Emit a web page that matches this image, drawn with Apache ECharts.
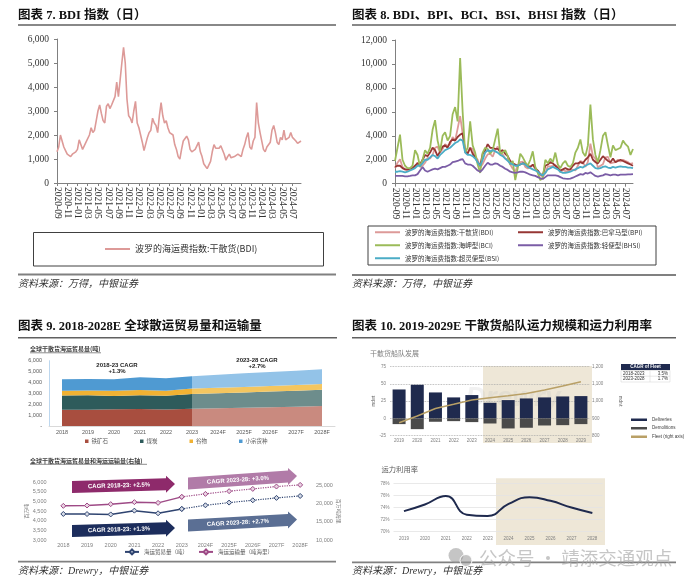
<!DOCTYPE html>
<html><head><meta charset="utf-8">
<script src="https://cdn.jsdelivr.net/npm/echarts@6.0.0/dist/echarts.min.js"></script>
<style>html,body{margin:0;padding:0;background:#fff}#c{width:700px;height:588px}</style>
</head><body><div id="c"></div>
<script>
// ---------------- DATA ----------------
const tickLabels78 = ['2020-09','2020-11','2021-01','2021-03','2021-05','2021-07','2021-09','2021-11','2022-01','2022-03','2022-05','2022-07','2022-09','2022-11','2023-01','2023-03','2023-05','2023-07','2023-09','2023-11','2024-01','2024-03','2024-05','2024-07'];
const daysChart7 = ['01','11','21'];
const daysChart8 = ['01','16'];

const bdiDaily = [1300,1500,2000,2050,1500,1350,1200,1150,1100,1200,
1150,1300,1400,1800,1750,1400,1350,1700,1750,2000,
2300,2100,2200,2600,3000,3250,2900,2600,2500,3200,
3300,3100,3250,3300,3600,4200,3600,4300,5000,5650,
5000,3500,2800,2700,2500,3000,3400,2500,2300,2300,
1700,1350,1400,1900,2100,2200,2700,2500,2400,2100,
2800,3350,2800,2500,2600,2300,2100,2100,2000,1600,
1400,1100,1000,1400,1750,1800,1950,1800,1400,1300,
1250,1400,1400,1700,1300,1100,800,700,600,550,
900,1300,1600,1450,1500,1450,1550,1550,1200,950,
1100,1200,1050,1000,1100,1150,1200,1150,1100,1400,
1600,1900,2100,1500,1400,1750,1900,3350,2500,2100,
2100,1400,1300,1500,1550,1700,2200,2400,2100,1700,
1600,1900,1800,2200,1800,1850,1900,2100,1900,1850,
1750,1650,1700,1750];

const bdi8 = [1300,1750,2050,1400,1200,1120,1200,1250,1400,1780,
1400,1500,1750,2150,2100,2400,3000,3100,2600,2900,
3300,3150,3300,3900,3600,4600,5650,4200,2800,2600,
3000,2900,2300,2000,1350,1650,2100,2450,2500,2250,
2800,3100,2500,2450,2100,2050,1600,1250,1000,1550,
1800,1850,1400,1280,1400,1550,1300,950,700,580,
900,1450,1450,1480,1550,1400,950,1150,1050,1050,
1150,1180,1100,1500,1900,1800,1400,1820,3350,2300,
2100,1350,1500,1620,2200,2250,1700,1750,1800,2000,
1850,2000,1900,1800,1650,1720];
const bpi8 = [1400,1500,1500,1300,1200,1200,1250,1300,1500,1700,
1600,2000,2400,2300,2600,3000,2800,2300,2700,3100,
3200,3000,3500,3700,3600,3900,4100,4200,2700,2500,
3000,2500,2200,1800,1500,2500,2800,3300,3000,3000,
2900,2900,2700,2800,2500,2300,1900,1700,1600,1500,
1600,1700,1700,1500,1400,1600,1300,1100,800,700,
1500,1600,1800,1700,1500,1300,1100,1200,1300,1200,
1200,1500,1700,1700,1800,1700,2000,2200,2500,2000,
1800,1700,2000,2300,2100,1900,1800,2100,1800,1900,
2000,1900,1800,1700,1600,1500];
const bci8 = [1900,3000,4100,2000,1500,1300,1300,1500,2800,2400,
1400,2000,2800,2500,3000,4500,5300,3600,2700,4000,
4300,3600,4000,5800,6400,5200,10500,6000,2600,3000,
5200,3200,2600,1600,900,2600,3000,2900,2500,2800,
3700,4600,2500,2600,2800,2300,1600,1900,300,1300,
2500,2200,1800,1500,2000,2700,1400,900,300,500,
2000,1700,2100,1800,2600,1600,1300,1700,1900,1500,
1400,1700,2600,3000,3700,2600,2300,3200,6600,3700,
2400,1800,2800,4000,4300,3200,2200,3200,2800,2900,
3000,3600,3300,3100,2400,2900];
const bhsi8 = [650,650,650,650,620,620,650,700,700,800,
1100,1400,1100,1000,1100,1200,1250,1200,1300,1400,
1400,1500,1600,1800,1850,1900,2000,2050,1700,1600,
1600,1500,1300,1100,1000,1200,1500,1750,1600,1600,
1700,1650,1500,1400,1250,1150,1000,950,900,950,
1000,1000,950,850,750,700,650,550,450,400,
550,700,700,700,700,650,550,450,420,400,
420,500,600,700,800,750,900,850,950,800,
650,600,650,700,800,750,700,750,750,700,
750,750,750,780,780,800];
const bsi8 = [1000,1000,1050,1000,950,1000,1100,1200,1300,1500,
1500,1700,2000,2000,2200,2400,2300,2100,2400,2600,
2800,2900,3000,3200,3400,3500,3700,3600,2600,2400,
2400,2300,2100,1800,1500,2000,2600,2800,2700,2800,
2700,2600,2400,2300,2100,1900,1700,1600,1500,1500,
1600,1700,1600,1400,1300,1200,1100,1000,800,700,
900,1200,1300,1400,1300,1200,1000,900,900,950,
1000,1100,1200,1300,1400,1350,1500,1600,1700,1500,
1300,1250,1300,1400,1450,1350,1300,1400,1350,1400,
1450,1400,1400,1350,1350,1300];

const years9 = ['2018','2019','2020','2021','2022','2023','2024F','2025F','2026F','2027F','2028F'];
const ironOre   = [1490,1500,1540,1560,1520,1580,1640,1680,1730,1780,1830];
const coal      = [1320,1330,1220,1260,1250,1370,1380,1400,1430,1460,1490];
const grain     = [420,430,470,480,470,490,500,510,520,530,540];
const minorBulk = [1070,1070,1070,1180,1140,1140,1200,1260,1280,1310,1360];
const seaTrade  = [4354,4350,4330,4526,4390,4615,4805,4945,5065,5190,5290];
const tonMiles  = [19475,19570,19945,20500,20300,21960,22790,23540,24170,24830,25280];

const years10 = ['2019','2020','2021','2022','2023','2024','2025','2026','2027','2028','2029'];
const deliveries  = [42,48.8,37.7,30.5,33.9,22.7,26.6,29,30.5,31.9,32.4];
const demolitions = [-8.2,-15.5,-4.8,-3.9,-5.3,-7.3,-14.5,-13.5,-10.2,-9.7,-8.2];
const fleet       = [875,914,958,982,1007,1020,1032,1045,1065,1088,1113];
const years10b = ['2019','2020','2021','2022','2023','2024','2025','2026','2027','2028'];
const utilisation = [73.4,74.5,75.9,72.8,72.6,74.6,75.7,75.1,74.0,73.1];

// ---------------- HELPERS ----------------
function buildDates(days){const out=[];let y=2020,m=9;for(let k=0;k<48;k++){for(const d of days){out.push(y+'-'+String(m).padStart(2,'0')+'-'+d);}m++;if(m>12){m=1;y++;}}return out;}
const dates7 = buildDates(daysChart7);
const dates8 = buildDates(daysChart8);
const showTick = (idx,val)=> val.slice(8)==='01' && tickLabels78.includes(val.slice(0,7));
const thousands = v => v===0 ? '0' : Number(v).toLocaleString('en-US');

const SERIF = "'Liberation Serif','Noto Sans CJK SC',serif";
const SANS = "'Liberation Sans','Noto Sans CJK SC',sans-serif";
const CJK = "'Noto Sans CJK SC','Liberation Sans',sans-serif";

const N_BDI='波罗的海运费指数:干散货(BDI)', N_BPI='波罗的海运费指数:巴拿马型(BPI)', N_BCI='波罗的海运费指数:海岬型(BCI)', N_BHSI='波罗的海运费指数:轻便型(BHSI)', N_BSI='波罗的海运费指数:超灵便型(BSI)';
const COL = {bdi:'#DD9A98', bpi:'#963634', bci:'#9BBB59', bhsi:'#7B5DA6', bsi:'#4BACC6'};

// ---------------- GRAPHICS ----------------
const G = [];
function text(x,y,t,font,fill,align,extra){G.push(Object.assign({type:'text',x,y,style:{text:t,font,fill:fill||'#000',align:align||'left',verticalAlign:'middle',textAlign:align||'left',textVerticalAlign:'middle'}},extra||{}));}
function line(x1,y1,x2,y2,stroke,w){G.push({type:'line',shape:{x1,y1,x2,y2},style:{stroke,lineWidth:w}});}
function rect(x,y,w,h,style,z){G.push({type:'rect',z:z||0,shape:{x,y,width:w,height:h},style});}
function arrow(x0,x1,yL,yR,bodyH,headH,headLen,fill,label){
  const s=(yR-yL)/(x1-x0), xb=x1-headLen, yb=yL+s*(xb-x0);
  G.push({type:'polygon',shape:{points:[[x0,yL-bodyH/2],[xb,yb-bodyH/2],[xb,yb-headH/2],[x1,yR],[xb,yb+headH/2],[xb,yb+bodyH/2],[x0,yL+bodyH/2]]},style:{fill}});
  const cx=(x0+xb)/2, cy=yL+s*(cx-x0);
  G.push({type:'text',x:cx,y:cy,rotation:-Math.atan(s),style:{text:label,font:'bold 6px '+SANS,fill:'#fff',align:'center',verticalAlign:'middle',textAlign:'center',textVerticalAlign:'middle'}});
}
const TITLE_FONT = 'bold 12.5px '+SERIF;
const SRC_FONT = 'italic 10px '+SERIF;
// titles
text(18,15.5,'图表 7. BDI 指数（日）',TITLE_FONT,'#111');
line(18,25,336,25,'#606060',1.4);
text(352,15.5,'图表 8. BDI、BPI、BCI、BSI、BHSI 指数（日）',TITLE_FONT,'#111');
line(352,25,676,25,'#606060',1.4);
text(18,327,'图表 9. 2018-2028E 全球散运贸易量和运输量',TITLE_FONT,'#111');
line(18,337.7,337,337.7,'#606060',1.6);
text(352,327,'图表 10. 2019-2029E 干散货船队运力规模和运力利用率',TITLE_FONT,'#111');
line(352,337.7,676,337.7,'#606060',1.6);
// sources
line(18,274.5,336,274.5,'#808080',1.8);
text(18,284.5,'资料来源：万得，中银证券',SRC_FONT,'#333');
line(352,275,676,275,'#808080',1.8);
text(352,284.5,'资料来源：万得，中银证券',SRC_FONT,'#333');
line(18,561.7,336,561.7,'#808080',1.8);
text(18,571.7,'资料来源：Drewry，中银证券',SRC_FONT,'#333');
line(352,562.3,676,562.3,'#808080',1.8);
text(352,571,'资料来源：Drewry，中银证券',SRC_FONT,'#333');
// legend boxes
rect(33.5,232.5,290,33.5,{fill:'none',stroke:'#404040',lineWidth:1});
rect(368,226,288,39,{fill:'none',stroke:'#404040',lineWidth:1});
// chart 9 annotations
text(30,349,'全球干散货海运贸易量(吨)','bold 6px '+CJK,'#404040');
line(30,352.8,101,352.8,'#404040',0.6);
text(117,365,'2018-23 CAGR','bold 6px '+SANS,'#222','center');
text(117,371,'+1.3%','bold 6px '+SANS,'#222','center');
text(257,360,'2023-28 CAGR','bold 6px '+SANS,'#222','center');
text(257,366,'+2.7%','bold 6px '+SANS,'#222','center');
const bandFont='bold 6px '+SANS;
text(118,417,'+1.2%',bandFont,'#fff','center');
text(118,402.5,'+0.4%',bandFont,'#fff','center');
text(118,393,'+2.7%',bandFont,'#fff','center');
text(118,383,'+1.6%',bandFont,'#fff','center');
text(253,417,'+2.4%',bandFont,'#fff','center');
text(253,399,'+2.1%',bandFont,'#fff','center');
text(253,390,'+3.0%',bandFont,'#fff','center');
text(253,378,'+3.2%',bandFont,'#fff','center');
text(30,460.5,'全球干散货海运贸易量和海运运输量(右轴)','bold 6px '+CJK,'#404040');
line(30,464.3,147,464.3,'#404040',0.6);
arrow(72,175,487,484,12,17,9,'#8E2A6B','CAGR 2018-23: +2.5%');
arrow(188,297,483.5,476,12,17,9,'#B17BA8','CAGR 2023-28: +3.0%');
arrow(72,175,531,528,12,17,9,'#1C2D5C','CAGR 2018-23: +1.3%');
arrow(188,297,525.5,519.5,12,17,9,'#5B6F94','CAGR 2023-28: +2.7%');
// chart 10 annotations
rect(483,366,109,77,{fill:'#EEE7D7'},-1);
rect(496,478.3,109,66.7,{fill:'#EEE7D7'},-1);
text(370,353,'干散货船队发展','7px '+CJK,'#7F7F7F');
text(381.5,469,'运力利用率','7.3px '+CJK,'#595959');
text(513,398,'Drewry','bold italic 28px '+SANS,'rgba(190,190,190,0.22)','center');
rect(621,364,49,6,{fill:'#1F2A4F'});
text(645.5,367,'CAGR of Fleet','bold 4.5px '+SANS,'#fff','center');
rect(621,370.5,49,11.5,{fill:'#fff',stroke:'#D0D0D0',lineWidth:0.5});
line(621,376.2,670,376.2,'#D0D0D0',0.5);
line(650,370.5,650,382,'#D0D0D0',0.5);
text(623,373.4,'2018-2023','4.5px '+SANS,'#333');
text(668,373.4,'3.5%','4.5px '+SANS,'#333','right');
text(623,379.2,'2023-2028','4.5px '+SANS,'#333');
text(668,379.2,'1.7%','4.5px '+SANS,'#333','right');
// watermark
G.push({type:'circle',shape:{cx:456,cy:555.5,r:7.5},style:{fill:'rgba(150,150,150,0.55)'}});
G.push({type:'circle',shape:{cx:466,cy:560.5,r:6},style:{fill:'rgba(150,150,150,0.55)',stroke:'#fff',lineWidth:1}});
text(479,557.5,'公众号 · 靖添交通观点','18.5px '+CJK,'rgba(160,160,160,0.6)');

// ---------------- SERIES ----------------
const series = [];
series.push({name:N_BDI,type:'line',xAxisIndex:0,yAxisIndex:0,data:bdiDaily,symbol:'none',lineStyle:{width:1.6,color:COL.bdi},itemStyle:{color:COL.bdi}});
[[N_BDI,bdi8,COL.bdi],[N_BPI,bpi8,COL.bpi],[N_BCI,bci8,COL.bci],[N_BHSI,bhsi8,COL.bhsi],[N_BSI,bsi8,COL.bsi]].forEach(([n,d,c])=>{
  series.push({name:n,type:'line',xAxisIndex:1,yAxisIndex:1,data:d,symbol:'none',lineStyle:{width:1.8,color:c},itemStyle:{color:c}});
});
const areaDefs=[['铁矿石',ironOre,'#A84E3F','#C98A7F'],['煤炭',coal,'#2E5B5B','#6D8D8C'],['谷物',grain,'#F1B233','#F4C660'],['小宗货种',minorBulk,'#4F9AD2','#93C3E8']];
areaDefs.forEach(([n,d,ch])=>{
  series.push({name:n,type:'line',xAxisIndex:2,yAxisIndex:2,stack:'hist',data:d.map((v,i)=>i<=5?v:'-'),symbol:'none',lineStyle:{width:0},areaStyle:{color:ch,opacity:1},itemStyle:{color:ch}});
});
areaDefs.forEach(([n,d,ch,cf])=>{
  series.push({name:n+' 预测',type:'line',xAxisIndex:2,yAxisIndex:2,stack:'fcst',data:d.map((v,i)=>i>=5?v:'-'),symbol:'none',lineStyle:{width:0},areaStyle:{color:cf,opacity:1},itemStyle:{color:cf}});
});
const NAVY9='#2F4470', PURP9='#9E4A86';
[['海运贸易量（吨）',seaTrade,NAVY9,'#D5DAE6',3],['海运运输量（吨海里）',tonMiles,PURP9,'#E9D3E2',4]].forEach(([n,d,c,f,yi])=>{
  series.push({name:n,type:'line',xAxisIndex:3,yAxisIndex:yi,data:d.map((v,i)=>i<=5?v:'-'),symbol:'diamond',symbolSize:5,lineStyle:{width:1.5,color:c},itemStyle:{color:f,borderColor:c,borderWidth:1}});
  series.push({name:n+' 预测',type:'line',xAxisIndex:3,yAxisIndex:yi,data:d.map((v,i)=>i>=5?v:'-'),symbol:'diamond',symbolSize:5,lineStyle:{width:1.2,color:c,type:'dotted'},itemStyle:{color:f,borderColor:c,borderWidth:1}});
});
series.push({name:'Deliveries',type:'bar',xAxisIndex:4,yAxisIndex:5,stack:'fl',data:deliveries,barWidth:13,itemStyle:{color:'#1F2A4E'}});
series.push({name:'Demolitions',type:'bar',xAxisIndex:4,yAxisIndex:5,stack:'fl',data:demolitions,barWidth:13,itemStyle:{color:'#4A4A4A'}});
series.push({name:'Fleet (right axis)',type:'line',xAxisIndex:4,yAxisIndex:6,data:fleet,symbol:'none',lineStyle:{width:1.5,color:'#B9A066'},itemStyle:{color:'#B9A066'}});
series.push({name:'运力利用率',type:'line',xAxisIndex:5,yAxisIndex:7,data:utilisation,smooth:0.5,symbol:'none',lineStyle:{width:2,color:'#1F2A4E'},itemStyle:{color:'#1F2A4E'}});

// ---------------- AXES ----------------
const ax78 = (gi,data)=>({gridIndex:gi,type:'category',data,boundaryGap:false,
  axisLine:{lineStyle:{color:'#808080',width:1}},
  axisTick:{interval:showTick,length:3,lineStyle:{color:'#808080'}},
  axisLabel:{interval:showTick,rotate:-90,margin:4,formatter:v=>v.slice(0,7),fontFamily:SERIF,fontSize:9.5,color:'#333'}});
const ay78 = (gi,max,interval)=>({gridIndex:gi,type:'value',min:0,max,interval,
  axisLine:{show:true,lineStyle:{color:'#808080'}},axisTick:{show:true,length:3,lineStyle:{color:'#808080'}},
  splitLine:{show:false},axisLabel:{formatter:thousands,fontFamily:SERIF,fontSize:9.5,color:'#333',margin:8}});
const smallLbl = (fs,color,margin)=>({fontFamily:SANS,fontSize:fs,color,margin});

const xAxis = [
  ax78(0,dates7), ax78(1,dates8),
  {gridIndex:2,type:'category',data:years9,boundaryGap:true,axisLine:{lineStyle:{color:'#D9D9D9'}},axisTick:{show:false},axisLabel:Object.assign(smallLbl(5.5,'#595959',4),{interval:0})},
  {gridIndex:3,type:'category',data:years9,boundaryGap:true,axisLine:{show:false},axisTick:{show:false},axisLabel:Object.assign(smallLbl(5.5,'#7F7F7F',3),{interval:0})},
  {gridIndex:4,type:'category',data:years10,boundaryGap:true,axisLine:{show:false},axisTick:{show:false},axisLabel:Object.assign(smallLbl(4.5,'#7F7F7F',3),{interval:0})},
  {gridIndex:5,type:'category',data:years10b,boundaryGap:true,axisLine:{show:false},axisTick:{show:false},axisLabel:Object.assign(smallLbl(4.5,'#7F7F7F',5),{interval:0})}
];
const yAxis = [
  ay78(0,6000,1000), ay78(1,12000,2000),
  {gridIndex:2,type:'value',min:0,max:6000,interval:1000,axisLine:{show:true,lineStyle:{color:'#BDD7EE'}},axisTick:{show:false},splitLine:{show:false},axisLabel:Object.assign(smallLbl(5.5,'#595959',7),{formatter:v=>v===0?'-':thousands(v)})},
  {gridIndex:3,type:'value',min:3000,max:6000,interval:500,axisLine:{show:false},axisTick:{show:false},splitLine:{show:false},axisLabel:Object.assign(smallLbl(5.5,'#7F7F7F',5),{formatter:thousands}),name:'百万吨',nameLocation:'middle',nameGap:19,nameRotate:90,nameTextStyle:{fontSize:5,color:'#7F7F7F',fontFamily:CJK}},
  {gridIndex:3,type:'value',position:'right',min:10000,max:26000,interval:5000,axisLine:{show:false},axisTick:{show:false},splitLine:{show:false},axisLabel:Object.assign(smallLbl(5.5,'#7F7F7F',4),{formatter:thousands,showMaxLabel:false}),name:'百万吨海里',nameLocation:'middle',nameGap:23,nameRotate:-90,nameTextStyle:{fontSize:5,color:'#7F7F7F',fontFamily:CJK}},
  {gridIndex:4,type:'value',min:-25,max:75,interval:25,axisLine:{show:false},axisTick:{show:false},splitLine:{show:true,lineStyle:{color:'#A6A6A6',type:'dotted',width:0.8}},axisLabel:smallLbl(4.5,'#7F7F7F',4),name:'mdwt',nameLocation:'middle',nameGap:13,nameRotate:90,nameTextStyle:{fontSize:4.5,color:'#595959',fontFamily:SANS}},
  {gridIndex:4,type:'value',position:'right',min:800,max:1200,interval:100,axisLine:{show:false},axisTick:{show:false},splitLine:{show:false},axisLabel:Object.assign(smallLbl(4.5,'#7F7F7F',2),{formatter:thousands}),name:'mdwt',nameLocation:'middle',nameGap:28,nameRotate:-90,nameTextStyle:{fontSize:4.5,color:'#595959',fontFamily:SANS}},
  {gridIndex:5,type:'value',min:70,max:78,interval:2,axisLine:{show:false},axisTick:{show:false},splitLine:{show:true,lineStyle:{color:'#E3E3E3',width:0.8}},axisLabel:Object.assign(smallLbl(4.5,'#7F7F7F',4),{formatter:v=>v+'%'})}
];

const lg8 = (name,left,top)=>({data:[name],left,top,padding:0,icon:'rect',itemWidth:25,itemHeight:2,textStyle:{fontSize:6.5,color:'#333',fontFamily:CJK}});
const legend = [
  {data:[N_BDI],left:105,top:244.5,padding:0,icon:'rect',itemWidth:25,itemHeight:2,textStyle:{fontSize:9,color:'#333',fontFamily:"'Noto Sans CJK SC','Liberation Serif',sans-serif"}},
  lg8(N_BDI,375,229), lg8(N_BPI,518,229), lg8(N_BCI,375,242), lg8(N_BHSI,518,242), lg8(N_BSI,375,255),
  {data:['铁矿石','煤炭','谷物','小宗货种'],left:85,top:438.5,padding:0,icon:'rect',itemWidth:3.5,itemHeight:3.5,itemGap:32,textStyle:{fontSize:5.5,color:'#595959',fontFamily:CJK,padding:[0,0,0,-2]}},
  {data:['海运贸易量（吨）','海运运输量（吨海里）'],left:124,top:548.5,padding:0,itemWidth:14,itemHeight:6,itemGap:10,textStyle:{fontSize:5.5,color:'#595959',fontFamily:CJK}},
  {data:['Deliveries','Demolitions','Fleet (right axis)'],orient:'vertical',left:631,top:417.5,padding:0,icon:'rect',itemWidth:16,itemHeight:2.5,itemGap:4,textStyle:{fontSize:4.5,color:'#404040',fontFamily:SANS}}
];

const chart = echarts.init(document.getElementById('c'),null,{renderer:'canvas'});
chart.setOption({
  animation:false, backgroundColor:'#fff',
  textStyle:{fontFamily:SANS},
  grid:[
    {left:57,top:39,width:244,height:144},
    {left:395,top:40,width:238,height:143.7},
    {left:49,top:360.7,width:286,height:65.3},
    {left:51.5,top:482.3,width:260.5,height:57.7},
    {left:390,top:366.7,width:200,height:69},
    {left:393.5,top:483.3,width:209.3,height:48.4}
  ],
  xAxis, yAxis, legend, series,
  graphic:{elements:G}
});
</script></body></html>
